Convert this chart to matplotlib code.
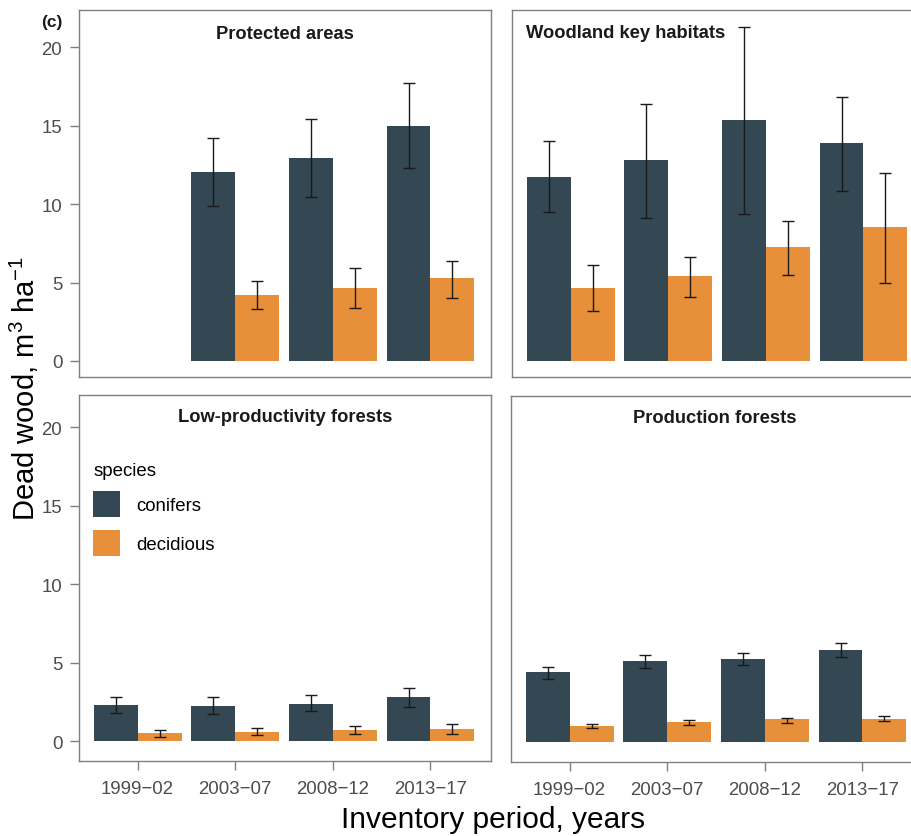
import numpy as np
import matplotlib
matplotlib.use("Agg")
import matplotlib.pyplot as plt
from matplotlib.patches import Patch

plt.rcParams['font.family'] = ['Liberation Sans', 'DejaVu Sans']
plt.rcParams['mathtext.default'] = 'regular'

# data
periods = ["1999\u221202", "2003\u221207", "2008\u221212", "2013\u221217"]
panels = ["Protected areas", "Woodland key habitats",
          "Low-productivity forests", "Production forests"]

# Protected areas
pa_con = [np.nan, 12.05, 12.93, 14.99]
pa_con_lo = [np.nan, 9.90, 10.45, 12.30]
pa_con_hi = [np.nan, 14.18, 15.40, 17.70]
pa_dec = [np.nan, 4.20, 4.67, 5.27]
pa_dec_lo = [np.nan, 3.30, 3.38, 4.03]
pa_dec_hi = [np.nan, 5.10, 5.94, 6.37]

# Woodland key habitats
wkh_con = [11.72, 12.78, 15.33, 13.86]
wkh_con_lo = [9.50, 9.11, 9.36, 10.83]
wkh_con_hi = [14.00, 16.37, 21.30, 16.84]
wkh_dec = [4.65, 5.39, 7.26, 8.51]
wkh_dec_lo = [3.16, 4.10, 5.50, 4.97]
wkh_dec_hi = [6.11, 6.64, 8.92, 11.97]

# Low-productivity forests
lp_con = [2.33, 2.27, 2.40, 2.80]
lp_con_lo = [1.80, 1.72, 1.93, 2.17]
lp_con_hi = [2.80, 2.80, 2.93, 3.38]
lp_dec = [0.53, 0.59, 0.72, 0.80]
lp_dec_lo = [0.29, 0.38, 0.45, 0.45]
lp_dec_hi = [0.72, 0.85, 0.97, 1.12]

# Production forests
pf_con = [4.46, 5.18, 5.33, 5.90]
pf_con_lo = [4.03, 4.75, 4.92, 5.43]
pf_con_hi = [4.80, 5.56, 5.71, 6.32]
pf_dec = [1.04, 1.31, 1.46, 1.50]
pf_dec_lo = [0.89, 1.08, 1.23, 1.36]
pf_dec_hi = [1.17, 1.44, 1.57, 1.69]

species = ["conifers", "decidious"]
colors = ["#344854", "#E88F3A"]

panel_data = [
    (pa_con, pa_con_lo, pa_con_hi, pa_dec, pa_dec_lo, pa_dec_hi),
    (wkh_con, wkh_con_lo, wkh_con_hi, wkh_dec, wkh_dec_lo, wkh_dec_hi),
    (lp_con, lp_con_lo, lp_con_hi, lp_dec, lp_dec_lo, lp_dec_hi),
    (pf_con, pf_con_lo, pf_con_hi, pf_dec, pf_dec_lo, pf_dec_hi),
]

W, H = 911, 837
fig = plt.figure(figsize=(W / 100, H / 100), dpi=100)


def px_axes(x0, y0, x1, y1):
    return fig.add_axes([x0 / W, 1 - y1 / H, (x1 - x0) / W, (y1 - y0) / H])


# panel boxes in pixels (left, top, right, bottom)
boxes = [(79, 11, 491, 378), (512, 11, 924, 378),
         (79, 396, 491, 762), (511, 397, 923, 763)]
ylims = [(-1.02, 22.36), (-1.02, 22.36), (-1.25, 22.06), (-1.25, 22.06)]
title_pos = [(0.5, 0.935, 'center'), (0.034, 0.94, 'left'),
             (0.5, 0.94, 'center'), (0.495, 0.94, 'center')]

grey = "#7f7f7f"
x = np.arange(1, 5)
bw = 0.45

axes = []
for i, (box, data) in enumerate(zip(boxes, panel_data)):
    ax = px_axes(*box)
    axes.append(ax)
    con, con_lo, con_hi, dec, dec_lo, dec_hi = [np.array(d) for d in data]
    for off, mean, lo, hi, col in [(-bw / 2, con, con_lo, con_hi, colors[0]),
                                   (bw / 2, dec, dec_lo, dec_hi, colors[1])]:
        ax.bar(x + off, mean, width=bw, color=col, linewidth=0)
        ax.errorbar(x + off, mean, yerr=[mean - lo, hi - mean], fmt='none',
                    ecolor="#1a1a1a", elinewidth=1.0, capsize=4, capthick=1.0)
    ax.set_xlim(0.4, 4.62)
    ax.set_ylim(*ylims[i])
    for s in ax.spines.values():
        s.set_color(grey)
        s.set_linewidth(1.0)
    ax.tick_params(colors=grey, length=6.5, width=1.0, pad=5.5,
                   labelcolor="#4d4d4d", labelsize=13.4)
    ax.tick_params(axis='x', pad=7.5)
    ax.set_xticks(x)
    ax.set_yticks([0, 5, 10, 15, 20])
    if i < 2:
        ax.set_xticks([])
    else:
        ax.set_xticklabels(periods)
    if i % 2 == 1:
        ax.set_yticks([])
    tx, ty, ha = title_pos[i]
    ax.text(tx, ty, panels[i], transform=ax.transAxes, ha=ha, va='center',
            fontsize=13.2, fontweight='bold', color="#1a1a1a")

handles = [Patch(facecolor=c, edgecolor='none') for c in colors]
leg = axes[2].legend(handles, species, title="species", loc='upper left',
                     bbox_to_anchor=(0.035, 0.817), frameon=False,
                     fontsize=13.4, title_fontsize=13.4, handlelength=1.45,
                     handleheight=1.8, labelspacing=0.65, handletextpad=0.85,
                     borderpad=0, borderaxespad=0, alignment='left')

fig.text(52 / W, 1 - 22 / H, "(c)", fontsize=12.5, fontweight='bold',
         ha='center', va='center', color="#1a1a1a")
fig.text(24 / W, 1 - 388 / H, "Dead wood, m$^{3}$ ha$^{-1}$", rotation=90,
         fontsize=21, ha='center', va='center')
fig.text(493 / W, 1 - 820 / H, "Inventory period, years", fontsize=21.5,
         ha='center', va='center')

fig.savefig("out.png", dpi=100)
